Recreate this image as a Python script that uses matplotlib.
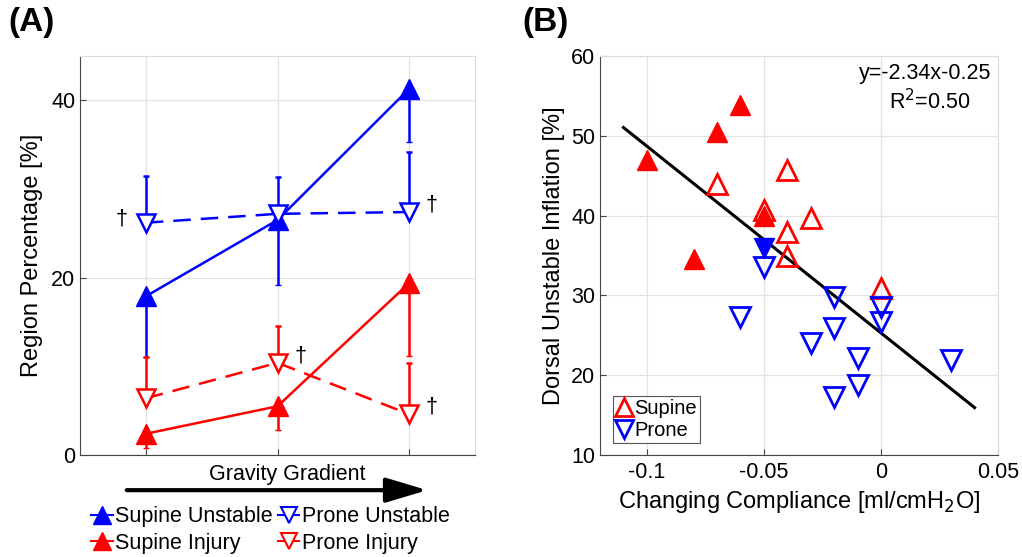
import matplotlib
matplotlib.use("Agg")
import matplotlib.pyplot as plt
from matplotlib.lines import Line2D
import numpy as np

plt.rcParams['font.family'] = ['Liberation Sans', 'DejaVu Sans']

# panel A: region percentage along the gravity gradient
positions = [1, 2, 3]
su_mean = [17.9, 26.5, 41.3]   # supine unstable
su_err = [6.8, 7.3, 6.0]
pu_mean = [26.2, 27.2, 27.4]   # prone unstable
pu_err = [5.3, 4.1, 6.8]
si_mean = [2.4, 5.5, 19.4]     # supine injury
si_err = [1.6, 2.7, 8.2]
pi_mean = [6.4, 10.4, 4.6]     # prone injury
pi_err = [4.7, 4.1, 5.8]
dagger_pts = [(1, 26.2, 'left'), (3, 27.4, 'right'), (2, 10.4, 'right'), (3, 4.6, 'right')]

# panel B: dorsal unstable inflation vs changing compliance
sup_fill_x = [-0.1, -0.07, -0.06, -0.08, -0.05]
sup_fill_y = [47.0, 50.5, 53.9, 34.6, 39.9]
sup_open_x = [-0.07, -0.04, -0.05, -0.03, -0.04, -0.04, 0.0]
sup_open_y = [44.0, 45.7, 40.7, 39.7, 38.0, 34.9, 30.9]
pro_fill_x = [-0.05]
pro_fill_y = [35.9]
pro_open_x = [-0.05, -0.06, -0.02, -0.02, -0.03, -0.01, -0.01, -0.02, 0.0, 0.0, 0.03]
pro_open_y = [33.6, 27.3, 29.8, 25.9, 24.0, 22.1, 18.8, 17.3, 28.6, 26.7, 21.9]
fit_slope = -234.0
fit_icept = 25.3
fit_range = [-0.11, 0.04]

BLUE = '#0000ff'
RED = '#ff0000'
FS = 15.5
LFS = 17

fig = plt.figure(figsize=(10.22, 5.57), dpi=100)
axA = fig.add_axes([0.0783, 0.1831, 0.3865, 0.7164])
axB = fig.add_axes([0.5871, 0.1831, 0.3894, 0.7164])

for ax in (axA, axB):
    ax.grid(True, color='#e3e3e3', lw=0.9)
    ax.set_axisbelow(True)
    for s in ('left', 'bottom'):
        ax.spines[s].set_color('#444444')
    for s in ('top', 'right'):
        ax.spines[s].set_color('#dcdcdc')
    ax.tick_params(direction='in', length=4, labelsize=FS, color='#444444',
                   top=False, right=False)
axB.tick_params(axis='x', pad=5)

dash = (0, (7, 4))
# supine: error downwards, prone: error upwards
axA.errorbar(positions, su_mean, yerr=[su_err, [0, 0, 0]], color=BLUE, lw=1.8,
             marker='^', ms=15, capsize=2, elinewidth=1.8)
axA.errorbar(positions, pu_mean, yerr=[[0, 0, 0], pu_err], color=BLUE, lw=1.8, ls=dash,
             marker='v', ms=13, mfc='white', mew=1.8, capsize=2, elinewidth=1.8)
axA.errorbar(positions, si_mean, yerr=[si_err, [0, 0, 0]], color=RED, lw=1.8,
             marker='^', ms=15, capsize=2, elinewidth=1.8)
axA.errorbar(positions, pi_mean, yerr=[[0, 0, 0], pi_err], color=RED, lw=1.8, ls=dash,
             marker='v', ms=13, mfc='white', mew=1.8, capsize=2, elinewidth=1.8)

for x, y, side in dagger_pts:
    if side == 'left':
        axA.annotate('†', (x, y), xytext=(-13, 3), textcoords='offset points',
                     ha='right', va='center', fontsize=FS)
    else:
        axA.annotate('†', (x, y), xytext=(12, 5), textcoords='offset points',
                     ha='left', va='center', fontsize=FS)

axA.set_xlim(0.5, 3.5)
axA.set_ylim(0, 45)
axA.set_xticks(positions)
axA.set_xticklabels([])
axA.set_yticks([0, 20, 40])
axA.set_ylabel('Region Percentage [%]', fontsize=LFS, labelpad=6)

# gravity gradient arrow under panel A
fig.text(0.281, 0.149, 'Gravity Gradient', ha='center', va='center', fontsize=FS)
fig.add_artist(matplotlib.patches.FancyArrowPatch(
    (0.124, 0.120), (0.418, 0.120), transform=fig.transFigure,
    arrowstyle='-|>,head_length=0.9,head_width=0.27', mutation_scale=28,
    shrinkA=0, shrinkB=0, lw=3, color='k'))

handlesA = [
    Line2D([], [], color=BLUE, marker='^', ms=13, lw=1.5),
    Line2D([], [], color=RED, marker='^', ms=13, lw=1.5),
    Line2D([], [], color=BLUE, marker='v', ms=11, mfc='white', mew=1.5, lw=1.5),
    Line2D([], [], color=RED, marker='v', ms=11, mfc='white', mew=1.5, lw=1.5),
]
labelsA = ['Supine Unstable', 'Supine Injury', 'Prone Unstable', 'Prone Injury']
fig.legend(handlesA, labelsA, ncol=2, loc='upper left', bbox_to_anchor=(0.085, 0.099),
           frameon=False, fontsize=FS, handlelength=1.0, handletextpad=0.1,
           columnspacing=0.25, labelspacing=0.25, borderpad=0.2, borderaxespad=0)

# panel B
axB.plot(fit_range, [fit_slope * v + fit_icept for v in fit_range], color='k', lw=2.2)
axB.plot(sup_open_x, sup_open_y, ls='none', marker='^', ms=14, mfc='none', mec=RED, mew=2)
axB.plot(sup_fill_x, sup_fill_y, ls='none', marker='^', ms=15, color=RED)
axB.plot(pro_open_x, pro_open_y, ls='none', marker='v', ms=14, mfc='none', mec=BLUE, mew=2)
axB.plot(pro_fill_x, pro_fill_y, ls='none', marker='v', ms=15, color=BLUE)

axB.set_xlim(-0.12, 0.05)
axB.set_ylim(10, 60)
axB.set_xticks([-0.1, -0.05, 0, 0.05])
axB.set_xticklabels(['-0.1', '-0.05', '0', '0.05'])
axB.set_yticks([10, 20, 30, 40, 50, 60])
axB.set_xlabel('Changing Compliance [ml/cmH$_2$O]', fontsize=LFS)
axB.set_ylabel('Dorsal Unstable Inflation [%]', fontsize=LFS)

axB.text(0.983, 0.955, 'y=-2.34x-0.25', transform=axB.transAxes, ha='right', va='center',
         fontsize=FS)
axB.text(0.93, 0.885, 'R$^2$=0.50', transform=axB.transAxes, ha='right', va='center',
         fontsize=FS)

handlesB = [
    Line2D([], [], ls='none', marker='^', ms=13, mfc='none', mec=RED, mew=2),
    Line2D([], [], ls='none', marker='v', ms=13, mfc='none', mec=BLUE, mew=2),
]
legB = axB.legend(handlesB, ['Supine', 'Prone'], loc='lower left', bbox_to_anchor=(0.033, 0.03),
                  fontsize=FS - 1, handlelength=0.8, handletextpad=0.1, borderpad=0.15,
                  labelspacing=0.15, borderaxespad=0, fancybox=False, framealpha=1)
legB.get_frame().set_edgecolor('#555555')
legB.get_frame().set_linewidth(0.8)

fig.text(0.008, 0.96, '(A)', fontsize=24, fontweight='bold', ha='left', va='center')
fig.text(0.511, 0.96, '(B)', fontsize=24, fontweight='bold', ha='left', va='center')

fig.savefig('out.png', dpi=100)
